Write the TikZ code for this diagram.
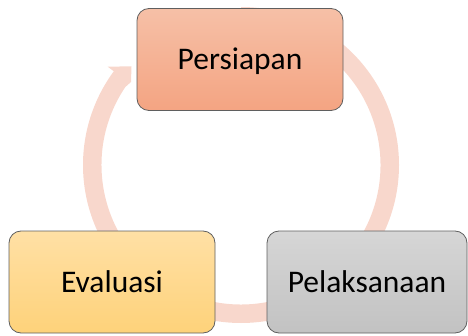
\documentclass[tikz,border=0pt]{standalone}
\usepackage{fontspec}
\setmainfont{Carlito}
\usetikzlibrary{calc}
\definecolor{ringc}{RGB}{248,215,204}
\definecolor{pertop}{RGB}{246,192,167}
\definecolor{perbot}{RGB}{244,164,130}
\definecolor{evatop}{RGB}{255,224,165}
\definecolor{evabot}{RGB}{254,210,122}
\definecolor{peltop}{RGB}{214,214,214}
\definecolor{pelbot}{RGB}{194,194,194}
\definecolor{edgec}{RGB}{95,95,95}
\tikzset{
  stagebox/.style={draw=edgec, line width=0.8pt, rounded corners=12pt,
    minimum height=102pt, inner sep=0pt,
    font=\fontsize{31.5}{36}\selectfont, text=black,
    text height=20pt, text depth=0pt}
}
\begin{document}
\begin{tikzpicture}[x=1pt,y=1pt]
\useasboundingbox (0,0) rectangle (468,335);
\coordinate (C) at (241,170);
% cycle ring with arrowhead
\fill[ringc]
  ($(C)+(90:158)$) arc[start angle=90, end angle=-216.4, radius=158]
  -- (107.7,268.3) -- (131.5,268.7) -- (131,253)
  -- ($(C)+(-214:139.5)$) arc[start angle=-214, end angle=90, radius=139.5]
  -- cycle;
% boxes
\node[stagebox, minimum width=206pt, top color=pertop, bottom color=perbot]
  (per) at (240,275.5) {Persiapan};
\node[stagebox, minimum width=206pt, top color=evatop, bottom color=evabot]
  (eva) at (112,53) {Evaluasi};
\node[stagebox, minimum width=200pt, top color=peltop, bottom color=pelbot]
  (pel) at (367,53) {Pelaksanaan};
\end{tikzpicture}
\end{document}
